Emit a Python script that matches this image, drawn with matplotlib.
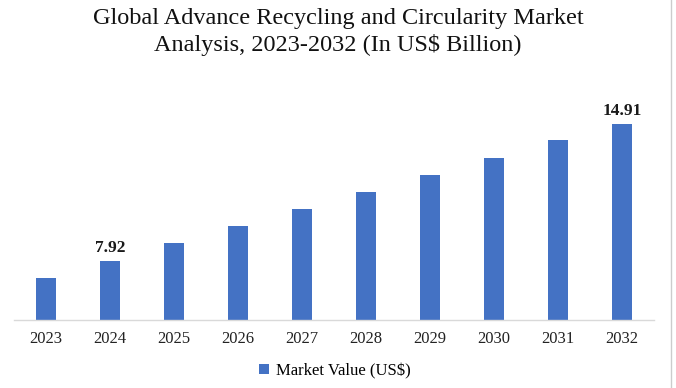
import matplotlib.pyplot as plt
from matplotlib.lines import Line2D

years = ['2023', '2024', '2025', '2026', '2027', '2028', '2029', '2030', '2031', '2032']
values = [7.04, 7.92, 8.82, 9.69, 10.57, 11.43, 12.29, 13.19, 14.06, 14.91]
labelled = {'2024': '7.92', '2032': '14.91'}

plt.rcParams['font.family'] = ['Liberation Serif', 'DejaVu Serif']

fig = plt.figure(figsize=(6.76, 3.88), dpi=100)
ax = fig.add_axes([14/676, 1 - 320/388, 640/676, 230/388])

blue = '#4472C4'
bars = ax.bar(range(len(years)), values, width=0.31, color=blue, label='Market Value (US$)')

for i, y in enumerate(years):
    if y in labelled:
        ax.text(i, values[i] + 0.25, labelled[y], ha='center', va='bottom',
                fontsize=12.5, fontweight='bold', color='#1a1a1a')

ax.set_xlim(-0.5, len(years) - 0.5)
ax.set_ylim(4.9, 4.9 + 230/19.6)
ax.set_xticks(range(len(years)))
ax.set_xticklabels(years, fontsize=12, color='#222222')
ax.tick_params(axis='x', length=0, pad=8)
ax.set_yticks([])
for s in ['top', 'right', 'left']:
    ax.spines[s].set_visible(False)
ax.spines['bottom'].set_color('#d9d9d9')
ax.spines['bottom'].set_linewidth(1.0)

fig.text(0.5, 1 - 32/388, 'Global Advance Recycling and Circularity Market\nAnalysis, 2023-2032 (In US$ Billion)',
         ha='center', va='center', fontsize=17.5, linespacing=1.3, color='#111111')

fig.legend(handles=[bars], loc='center', bbox_to_anchor=(335/676, 1 - 371/388),
           frameon=False, fontsize=12, handlelength=0.6, handleheight=0.6, handletextpad=0.4)

fig.add_artist(Line2D([671/676, 671/676], [0, 1], transform=fig.transFigure, color='#cccccc', lw=1))

fig.savefig('out.png', dpi=100)
